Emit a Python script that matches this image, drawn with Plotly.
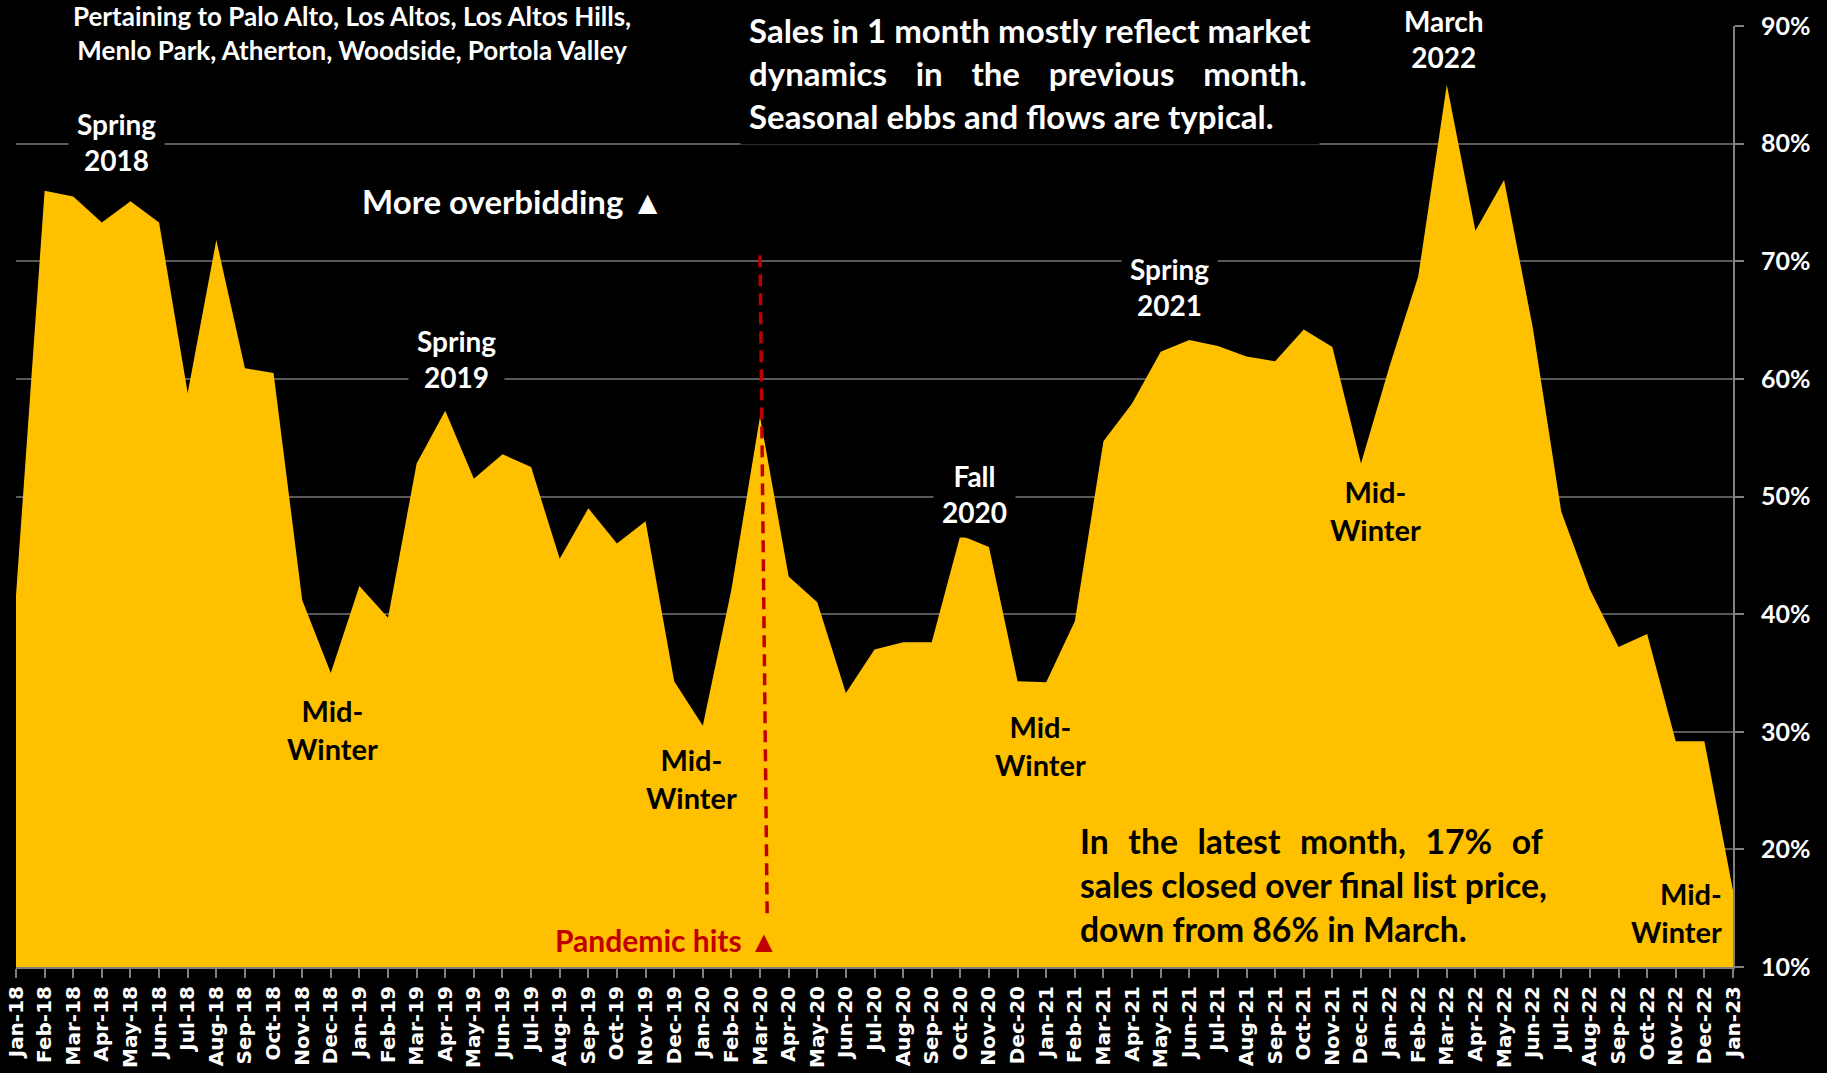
import plotly.graph_objects as go

months = ["Jan-18", "Feb-18", "Mar-18", "Apr-18", "May-18", "Jun-18", "Jul-18", "Aug-18", "Sep-18", "Oct-18", "Nov-18", "Dec-18",
          "Jan-19", "Feb-19", "Mar-19", "Apr-19", "May-19", "Jun-19", "Jul-19", "Aug-19", "Sep-19", "Oct-19", "Nov-19", "Dec-19",
          "Jan-20", "Feb-20", "Mar-20", "Apr-20", "May-20", "Jun-20", "Jul-20", "Aug-20", "Sep-20", "Oct-20", "Nov-20", "Dec-20",
          "Jan-21", "Feb-21", "Mar-21", "Apr-21", "May-21", "Jun-21", "Jul-21", "Aug-21", "Sep-21", "Oct-21", "Nov-21", "Dec-21",
          "Jan-22", "Feb-22", "Mar-22", "Apr-22", "May-22", "Jun-22", "Jul-22", "Aug-22", "Sep-22", "Oct-22", "Nov-22", "Dec-22",
          "Jan-23"]

pct_over_list = [41.6, 76.0, 75.5, 73.3, 75.1, 73.3, 58.8, 71.8, 60.9, 60.5, 41.2, 35.0,
                 42.4, 39.7, 52.8, 57.3, 51.5, 53.6, 52.5, 44.7, 49.0, 46.0, 47.9, 34.3,
                 30.5, 42.1, 56.8, 43.2, 41.0, 33.3, 37.0, 37.6, 37.6, 46.7, 45.7, 34.3,
                 34.2, 39.4, 54.7, 57.9, 62.3, 63.3, 62.8, 61.9, 61.5, 64.2, 62.7, 52.8,
                 61.1, 68.7, 85.0, 72.6, 76.9, 64.4, 48.7, 42.1, 37.2, 38.3, 29.2, 29.2,
                 16.5]

y_ticks = [10, 20, 30, 40, 50, 60, 70, 80, 90]
y_tick_labels = ["10%", "20%", "30%", "40%", "50%", "60%", "70%", "80%", "90%"]

YELLOW = "#FFC000"
RED = "#C00000"
FONT = "Lato"

fig = go.Figure()
fig.add_trace(go.Scatter(
    x=months, y=pct_over_list, mode="lines", fill="tozeroy",
    fillcolor=YELLOW, line=dict(width=0, color=YELLOW), hoverinfo="skip",
))

NB = "\u00a0"

def gap(n, size):
    return '<span style="font-size:%.1fpx">%s</span>' % (size, NB * n)

def ann(x, y, text, size, color="white", bg="black", xanchor="center", align="center", pad=4):
    fig.add_annotation(x=x, y=y, xref="x", yref="y", text=text, showarrow=False,
                       font=dict(family=FONT, size=size, color=color, weight="bold"),
                       bgcolor=bg, xanchor=xanchor, yanchor="middle", align=align, borderpad=pad)

ann(11.75, 89.4, "Pertaining to Palo Alto, Los Altos, Los Altos Hills,<br>Menlo Park, Atherton, Woodside, Portola Valley", 26)
ann(3.5, 80.1, "Spring<br>2018", 28, pad=8)
ann(17.35, 75.1, "More overbidding ▲", 33)
line2 = gap(4, 29.6).join(["dynamics", "in", "the", "previous", "month."])
ann(35.45, 86.0, "Sales in 1 month mostly reflect market<br>" + line2 + "<br>Seasonal ebbs and flows are typical.", 33, align="left", pad=8)
ann(49.9, 88.9, "March<br>2022", 28, pad=6)
ann(15.4, 61.7, "Spring<br>2019", 28, pad=8)
ann(40.3, 67.8, "Spring<br>2021", 28, pad=8)
ann(33.5, 50.2, "Fall<br>2020", 28, pad=8)
for (mx, my) in [(11.05, 30.15), (23.6, 26.0), (35.8, 28.8), (47.5, 48.8)]:
    ann(mx, my, "Mid-<br>Winter", 29, color="black", bg="rgba(0,0,0,0)")
ann(59.8, 14.6, "Mid-<br>Winter", 29, color="black", bg="rgba(0,0,0,0)", xanchor="right", align="right")
ann(22.75, 12.3, "Pandemic hits ▲", 30, color=RED, bg="rgba(0,0,0,0)")
l1 = gap(3, 26.9).join(["In", "the", "latest", "month,", "17%", "of"])
ann(45.35, 17.0, l1 + "<br>sales closed over final list price,<br>down from 86% in March.", 33.7,
    color="black", bg="rgba(0,0,0,0)", align="left")

fig.add_shape(type="line", xref="x", yref="y", x0=26, y0=70.5, x1=26.25, y1=14.2,
              line=dict(color=RED, width=3.5, dash="12px,7px"))

fig.update_layout(
    width=1827, height=1073,
    paper_bgcolor="black", plot_bgcolor="black",
    margin=dict(l=16, r=94, t=26, b=106),
    showlegend=False,
    font=dict(family=FONT, color="white"),
)
fig.update_xaxes(
    type="category", range=[0, 60], tickmode="array", tickvals=months, ticktext=months,
    tickangle=-90, tickfont=dict(family="DejaVu Sans", size=20, color="white", weight="bold"),
    showgrid=False, showline=True, linecolor="#808080", linewidth=2,
    ticks="outside", tickcolor="#808080", ticklen=9, tickwidth=1.5, zeroline=False,
    automargin=False,
)
fig.update_yaxes(
    side="right", range=[10, 90], tickmode="array", tickvals=y_ticks, ticktext=y_tick_labels,
    tickfont=dict(family=FONT, size=25, color="white", weight="bold"),
    showgrid=True, gridcolor="#595959", gridwidth=1.5,
    showline=True, linecolor="#808080", linewidth=2,
    ticks="outside", tickcolor="#808080", ticklen=9, tickwidth=1.5, zeroline=False,
    ticklabelstandoff=12, automargin=False,
)

fig.write_html("out.html", config={"displayModeBar": False},
               post_script="document.body.style.margin='0';document.body.style.padding='0';")
